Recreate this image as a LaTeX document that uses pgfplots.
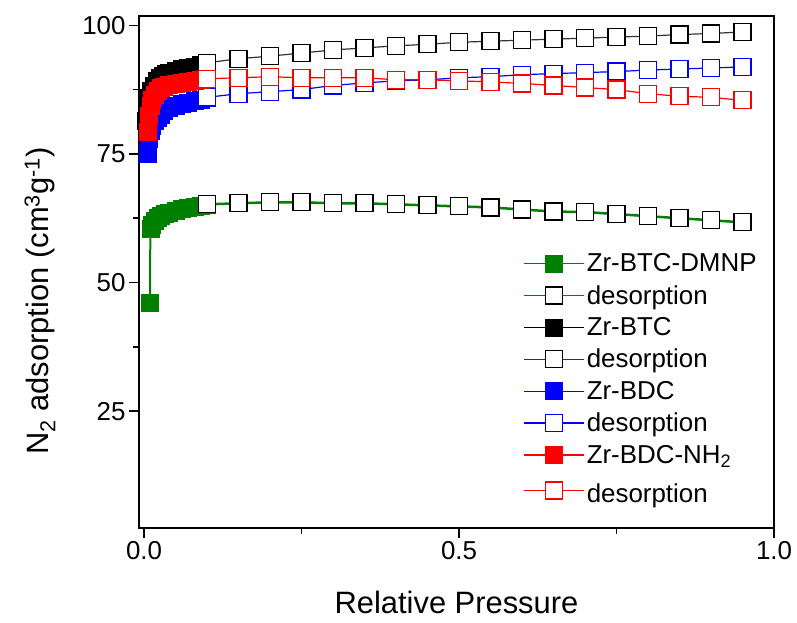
\documentclass[border=0pt]{standalone}
\usepackage{fontspec}
\setmainfont{Liberation Sans}
\usepackage{pgfplots}
\pgfplotsset{compat=1.18}

\definecolor{dgreen}{RGB}{0,128,0}
\pgfplotsset{
  thinleg/.style={legend image code/.code={%
    \draw[dgreen, line width=1.4bp] (0bp,0bp) -- (60bp,0bp);
    \draw[mark repeat=2,mark phase=2,##1,draw=none] plot coordinates {(0bp,0bp) (30bp,0bp) (60bp,0bp)};}},
}

\begin{document}
\begin{tikzpicture}
\begin{axis}[
  scale only axis,
  width=635bp, height=512bp,
  xmin=-0.008, xmax=1.0,
  ymin=2.3, ymax=101.8,
  xtick={0,0.5,1}, minor x tick num=1,
  ytick={25,50,75,100}, minor y tick num=1,
  xtick pos=bottom, ytick pos=left,
  tick align=outside,
  major tick length=10bp, minor tick length=6bp,
  every tick/.style={black, line width=1.5bp},
  axis line style={line width=1.6bp},
  /pgf/number format/assume math mode=true,
  ticklabel style={font=\fontsize{26}{30}\selectfont},
  xticklabel style={/pgf/number format/.cd, fixed, fixed zerofill, precision=1},
  xlabel={Relative Pressure},
  ylabel={N\textsubscript{2} adsorption (cm\textsuperscript{3}g\textsuperscript{-1})},
  label style={font=\fontsize{31}{35}\selectfont},
  xlabel style={at={(axis description cs:0.5,-0.146)}, anchor=center},
  ylabel style={at={(axis description cs:-0.156,0.443)}, anchor=center},
  legend image code/.code={\draw[mark repeat=2,mark phase=2,#1] plot coordinates {(0bp,0bp) (30bp,0bp) (60bp,0bp)};},
  legend style={draw=none, fill=none, at={(0.605,0.54)}, anchor=north west,
    font=\fontsize{26}{30}\selectfont, inner sep=0pt, row sep=8bp, cells={anchor=west}},
  legend cell align=left,
  mark size=8.5bp,
]
% Zr-BTC-DMNP
\addplot[dgreen, line width=2bp, mark=square*, mark options={fill=dgreen, draw=dgreen, line width=0.5bp}, thinleg] coordinates {
 (0.0095,46.0) (0.0100,60.4) (0.013,61.3) (0.017,62.0) (0.021,62.5) (0.027,62.9)
 (0.033,63.3) (0.040,63.6) (0.050,64.0) (0.060,64.3) (0.070,64.5) (0.080,64.7)
 (0.090,64.9) (0.100,65.1)
};
\addlegendentry{Zr-BTC-DMNP}
\addplot[dgreen, line width=2.5bp, mark=square*, mark options={fill=white, draw=black, line width=1.2bp}, thinleg] coordinates {
 (0.10,65.2) (0.15,65.4) (0.20,65.6) (0.25,65.6) (0.30,65.4) (0.35,65.4)
 (0.40,65.2) (0.45,65.0) (0.50,64.8) (0.55,64.6) (0.60,64.2) (0.65,63.8)
 (0.70,63.7) (0.75,63.3) (0.80,62.9) (0.85,62.5) (0.90,62.1) (0.95,61.7)
};
\addlegendentry{desorption}
% Zr-BTC
\addplot[black, line width=1.2bp, mark=square*, mark options={fill=black, draw=black, line width=0.5bp}] coordinates {
 (0.003,81.5) (0.005,84.0) (0.008,86.0) (0.011,87.3) (0.015,88.3) (0.020,89.2)
 (0.025,89.8) (0.030,90.2) (0.035,90.5) (0.040,90.7) (0.050,91.1) (0.060,91.5)
 (0.070,91.8) (0.080,92.0) (0.090,92.3) (0.100,92.6)
};
\addlegendentry{Zr-BTC}
\addplot[black!80, line width=1.2bp, mark=square*, mark options={fill=white, draw=black, line width=1.2bp}] coordinates {
 (0.10,92.7) (0.15,93.5) (0.20,94.0) (0.25,94.6) (0.30,95.2) (0.35,95.6)
 (0.40,96.0) (0.45,96.3) (0.50,96.7) (0.55,96.9) (0.60,97.1) (0.65,97.3)
 (0.70,97.5) (0.75,97.7) (0.80,97.9) (0.85,98.2) (0.90,98.4) (0.95,98.7)
};
\addlegendentry{desorption}
% Zr-BDC
\addplot[blue, line width=1.2bp, mark=square*, mark options={fill=blue, draw=blue, line width=0.5bp}] coordinates {
 (0.006,75.0) (0.008,78.0) (0.010,79.5) (0.013,80.5) (0.017,81.4) (0.021,82.1)
 (0.026,82.7) (0.032,83.3) (0.040,83.9) (0.050,84.3) (0.060,84.7) (0.070,85.0)
 (0.080,85.3) (0.090,85.6) (0.100,86.0)
};
\addlegendentry{Zr-BDC}
\addplot[blue, line width=1.2bp, mark=square*, mark options={fill=white, draw=blue, line width=1.2bp}] coordinates {
 (0.10,86.0) (0.15,86.7) (0.20,87.1) (0.25,87.5) (0.30,88.3) (0.35,88.8)
 (0.40,89.2) (0.45,89.4) (0.50,89.8) (0.55,90.0) (0.60,90.4) (0.65,90.6)
 (0.70,90.8) (0.75,91.0) (0.80,91.3) (0.85,91.5) (0.90,91.7) (0.95,91.9)
};
\addlegendentry{desorption}
% Zr-BDC-NH2
\addplot[red, line width=1.2bp, mark=square*, mark options={fill=red, draw=red, line width=0.5bp}] coordinates {
 (0.006,79.4) (0.008,82.5) (0.010,84.3) (0.013,85.5) (0.017,86.5) (0.021,87.3)
 (0.026,87.8) (0.032,88.1) (0.040,88.4) (0.050,88.7) (0.060,88.9) (0.070,89.1)
 (0.080,89.3) (0.090,89.5) (0.100,89.6)
};
\addlegendentry{Zr-BDC-NH\textsubscript{2}}
\addplot[red, line width=1.2bp, mark=square*, mark options={fill=white, draw=red, line width=1.2bp}] coordinates {
 (0.10,89.6) (0.15,89.8) (0.20,90.0) (0.25,89.8) (0.30,89.8) (0.35,89.8)
 (0.40,89.4) (0.45,89.4) (0.50,89.2) (0.55,89.0) (0.60,88.7) (0.65,88.3)
 (0.70,87.9) (0.75,87.5) (0.80,86.7) (0.85,86.2) (0.90,86.0) (0.95,85.4)
};
\addlegendentry{\rule{0pt}{26bp}desorption}
\end{axis}
\pgfresetboundingbox
\path[use as bounding box] (current axis.south west) ++(-139bp,-95bp) rectangle ++(797bp,623bp);
\end{tikzpicture}
\end{document}
